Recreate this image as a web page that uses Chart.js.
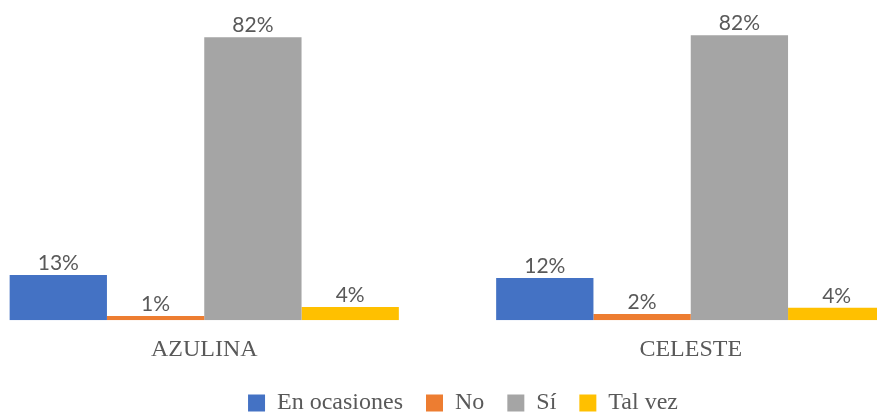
<!DOCTYPE html>
<html>
<head>
<meta charset="utf-8">
<script src="https://cdn.jsdelivr.net/npm/chart.js@4.4.1/dist/chart.umd.min.js"></script>
<style>
  html, body { margin: 0; padding: 0; background: #fff; overflow: hidden; width: 877px; height: 412px; }
  #grafica { position: absolute; left: -39px; top: 0; }
</style>
</head>
<body>
<canvas id="grafica" width="1004" height="425"></canvas>
<script>
// datos
var categorias = ['AZULINA', 'CELESTE'];
var enOcasiones = [13.1, 12.2];
var no = [1.2, 1.8];
var si = [81.8, 82.4];
var talVez = [3.8, 3.6];

// etiquetas de porcentaje encima de cada barra
var etiquetas = {
    id: 'etiquetas',
    afterDatasetsDraw: function (chart) {
        var ctx = chart.ctx;
        ctx.save();
        ctx.font = '21px Lato';
        ctx.fillStyle = '#595959';
        ctx.textAlign = 'center';
        ctx.textBaseline = 'alphabetic';
        chart.data.datasets.forEach(function (ds, i) {
            chart.getDatasetMeta(i).data.forEach(function (bar, j) {
                ctx.fillText(Math.round(ds.data[j]) + '%', bar.x, bar.y - 5);
            });
        });
        ctx.restore();
    }
};

var gx = document.getElementById("grafica").getContext("2d");
var grafica = new Chart(gx, {
    type: "bar",
    data: {
        labels: categorias,
        datasets: [
            { label: 'En ocasiones', data: enOcasiones, backgroundColor: '#4472C4' },
            { label: 'No', data: no, backgroundColor: '#ED7D31' },
            { label: 'Sí', data: si, backgroundColor: '#A5A5A5' },
            { label: 'Tal vez', data: talVez, backgroundColor: '#FFC000' }
        ]
    },
    options: {
        responsive: false,
        animation: false,
        devicePixelRatio: 1,
        layout: { padding: { top: 9 } },
        datasets: { bar: { categoryPercentage: 0.8, barPercentage: 1.0 } },
        plugins: {
            tooltip: { enabled: false },
            legend: {
                position: 'bottom',
                labels: {
                    font: { family: '"Liberation Serif", "Times New Roman", serif', size: 24 },
                    color: '#595959',
                    boxWidth: 17,
                    boxHeight: 17,
                    padding: 23
                }
            }
        },
        scales: {
            x: {
                grid: { display: false, drawTicks: false },
                border: { display: false },
                ticks: {
                    font: { family: '"Liberation Serif", "Times New Roman", serif', size: 24 },
                    color: '#595959',
                    padding: 15
                },
                afterFit: function (scale) { scale.height = scale.height - 11; }
            },
            y: {
                position: 'right',
                min: 0,
                max: 90,
                grid: { display: false },
                border: { display: false },
                ticks: { display: false },
                afterFit: function (scale) { scale.width = 31; } // centra la leyenda como en el original
            }
        }
    },
    plugins: [etiquetas]
});
</script>
</body>
</html>
